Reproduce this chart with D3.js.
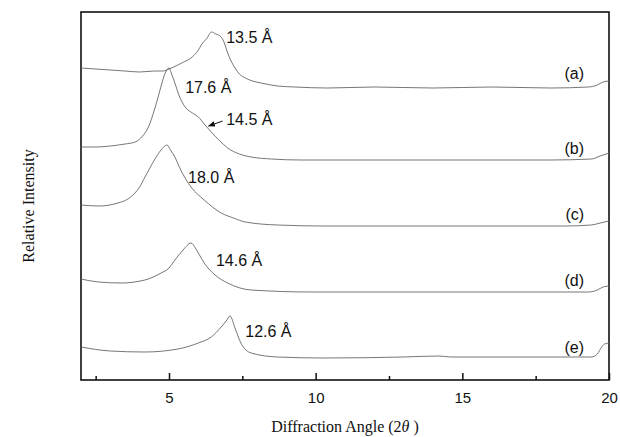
<!DOCTYPE html>
<html>
<head>
<meta charset="utf-8">
<script src="https://cdn.jsdelivr.net/npm/d3@7"></script>
<style>
  body { margin: 0; background: #fff; }
  .tick-label { font-family: "Liberation Sans", Arial, sans-serif; font-size: 15px; }
  .peak-label { font-family: "Liberation Sans", Arial, sans-serif; font-size: 16px; }
  .axis-title { font-family: "Liberation Serif", "Times New Roman", serif; font-size: 16px; }
</style>
</head>
<body>
<svg id="chart" width="620" height="437"></svg>
<script>
// XRD patterns, intensity in arbitrary units (stacked)
const seriesA = [[2.0,312],[2.5,311],[3.0,310],[3.5,309],[4.0,308],[4.5,309],[4.8,309],[5.0,311],[5.3,315],[5.5,318],[5.75,322],[6.0,330],[6.1,335],[6.3,342],[6.44,348],[6.6,346],[6.78,343],[6.9,336],[7.0,327],[7.1,320],[7.25,312],[7.4,306],[7.6,302],[7.85,299],[8.14,297],[8.7,294],[9.3,293],[10.4,292],[12,293],[14,292],[16,293],[18,292],[19.3,293],[19.6,295],[19.8,298],[20.0,299]];
const seriesB = [[2.0,233],[2.5,233],[3.0,234],[3.5,236],[3.85,238],[4.1,244],[4.3,253],[4.5,270],[4.63,283],[4.75,296],[4.87,307],[5.0,312],[5.1,305],[5.2,297],[5.35,284],[5.55,273],[5.8,267],[6.0,263],[6.2,256],[6.44,248],[6.7,240],[7.0,232],[7.4,226],[7.8,223],[8.5,221],[9.5,220],[12,220],[15,220],[18,220],[19.4,221],[19.7,224],[20.0,227]];
const seriesC = [[2.0,175],[2.6,174],[3.26,177],[3.6,181],[3.84,187],[4.0,193],[4.18,203],[4.35,212],[4.5,220],[4.73,230],[4.93,235],[5.05,230],[5.2,223],[5.4,210],[5.75,193],[6.2,180],[6.78,167],[7.2,162],[7.6,158],[8.7,155],[10.3,154],[13,154],[16,154],[18.5,154],[19.4,155],[19.7,157],[20.0,159]];
const seriesD = [[2.0,101],[2.6,98],[3.37,97],[4.18,100],[4.73,107],[5.0,112],[5.2,120],[5.48,130],[5.75,137],[5.9,132],[6.0,127],[6.2,117],[6.57,105],[7.0,97],[7.8,90],[9.85,88],[13,88],[16,88],[19.3,88],[19.6,90],[19.8,93],[20.0,94]];
const seriesE = [[2.0,33],[3.0,29],[4.18,28],[5.3,31],[6.0,37],[6.44,43],[6.78,53],[6.95,59],[7.08,64],[7.25,52],[7.45,37],[7.8,27],[8.7,23],[10.3,22],[13,23],[14.2,24],[14.6,23],[17,23],[19.4,23],[19.6,26],[19.75,33],[19.85,36],[20.0,37]];

const seriesNames = ['(a)', '(b)', '(c)', '(d)', '(e)'];
const seriesEnd = [301, 226, 160, 94, 27];  // level of the name label

// peak annotations: [2theta, intensity, text]
const peakLabels = [[6.95, 337, '13.5 Å'], [5.55, 287, '17.6 Å'], [6.95, 255, '14.5 Å'], [5.65, 197, '18.0 Å'], [6.6, 114, '14.6 Å'], [7.6, 43, '12.6 Å']];
const xTicks = [5, 10, 15, 20];
const xMinorTicks = [2.5, 7.5, 12.5, 17.5];

const svg = d3.select('#chart');
const margin = {left: 81, right: 11, top: 12, bottom: 57};
const W = 620, H = 437;

const x = d3.scaleLinear().domain([2, 20]).range([margin.left, W - margin.right]);
const y = d3.scaleLinear().domain([0, 368]).range([H - margin.bottom, margin.top]);

// frame
svg.append('rect')
  .attr('x', x(2)).attr('y', y(368))
  .attr('width', x(20) - x(2)).attr('height', y(0) - y(368))
  .attr('fill', 'none').attr('stroke', '#111').attr('stroke-width', 1.6);

// ticks, pointing inward
const xAxis = d3.axisBottom(x).tickValues(xTicks).tickSize(-7).tickPadding(12).tickFormat(d3.format('d'));
const gx = svg.append('g').attr('transform', `translate(0,${y(0)})`).call(xAxis);
gx.select('.domain').remove();
gx.selectAll('.tick line').attr('stroke', '#111').attr('stroke-width', 1.5);
gx.selectAll('.tick text').attr('class', 'tick-label').attr('fill', '#111');

const gm = svg.append('g').attr('transform', `translate(0,${y(0)})`)
  .call(d3.axisBottom(x).tickValues(xMinorTicks).tickSize(-4).tickFormat(''));
gm.select('.domain').remove();
gm.selectAll('.tick line').attr('stroke', '#111').attr('stroke-width', 1.5);

// traces
const line = d3.line().x(d => x(d[0])).y(d => y(d[1])).curve(d3.curveMonotoneX);
[seriesA, seriesB, seriesC, seriesD, seriesE].forEach(s => {
  svg.append('path')
    .attr('d', line(s))
    .attr('fill', 'none')
    .attr('stroke', '#666')
    .attr('stroke-width', 0.9);
});

// series names on the right
seriesNames.forEach((n, i) => {
  svg.append('text')
    .attr('class', 'peak-label')
    .attr('x', x(19.15)).attr('y', y(seriesEnd[i]))
    .attr('text-anchor', 'end')
    .attr('fill', '#111')
    .text(n);
});

// d-spacing labels
peakLabels.forEach(p => {
  svg.append('text')
    .attr('class', 'peak-label')
    .attr('x', x(p[0])).attr('y', y(p[1]))
    .attr('fill', '#111')
    .text(p[2]);
});

// arrow to the 14.5 shoulder
svg.append('defs').append('marker')
  .attr('id', 'arrow').attr('viewBox', '0 0 10 10')
  .attr('refX', 9).attr('refY', 5)
  .attr('markerWidth', 7).attr('markerHeight', 7)
  .attr('orient', 'auto')
  .append('path').attr('d', 'M0,1 L10,5 L0,9 Z').attr('fill', '#111');
svg.append('line')
  .attr('x1', x(6.83)).attr('y1', y(259))
  .attr('x2', x(6.35)).attr('y2', y(254))
  .attr('stroke', '#111').attr('stroke-width', 1)
  .attr('marker-end', 'url(#arrow)');

// axis titles
svg.append('text')
  .attr('class', 'axis-title')
  .attr('x', (x(2) + x(20)) / 2).attr('y', 432)
  .attr('text-anchor', 'middle')
  .attr('fill', '#111')
  .html('Diffraction Angle (2<tspan font-style="italic">θ</tspan> )');

svg.append('text')
  .attr('class', 'axis-title')
  .attr('transform', `translate(34,${(y(0) + y(368)) / 2 + 10}) rotate(-90)`)
  .attr('text-anchor', 'middle')
  .attr('fill', '#111')
  .text('Relative Intensity');
</script>
</body>
</html>
